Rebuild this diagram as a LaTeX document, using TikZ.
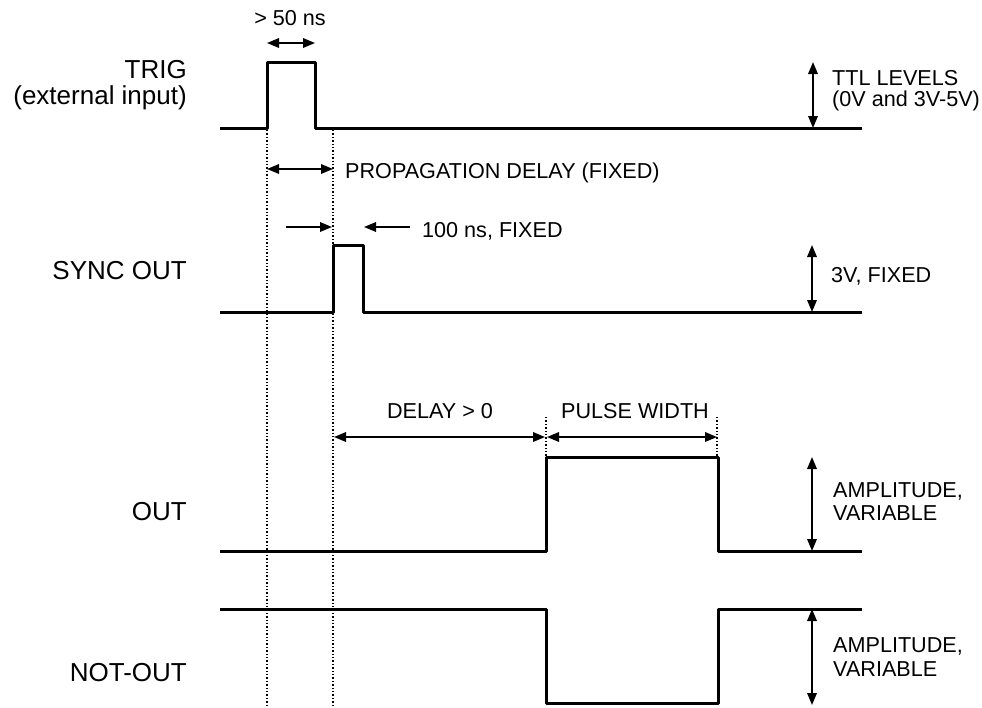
\documentclass[tikz,border=0pt]{standalone}
\usepackage{fontspec}
\setmainfont{Liberation Sans}
\usetikzlibrary{arrows.meta}
\begin{document}
\begin{tikzpicture}[x=1pt,y=-1pt,
  sig/.style={line width=3pt, line join=round},
  dimarrow/.style={line width=1.8pt, {Triangle[length=12pt,width=9.5pt]}-{Triangle[length=12pt,width=9.5pt]}},
  onearrow/.style={line width=1.8pt, -{Triangle[length=12pt,width=9.5pt]}},
  guide/.style={line width=1.4pt, dash pattern=on 1.4pt off 2pt},
  lbl/.style={font=\fontsize{26}{29}\selectfont, anchor=base east, inner sep=0pt},
  note/.style={font=\fontsize{21.6}{25}\selectfont, anchor=base west, inner sep=0pt},
  cnote/.style={font=\fontsize{21.6}{25}\selectfont, anchor=base, inner sep=0pt}]
\useasboundingbox (0,0) rectangle (982,707);
% guide lines
\draw[guide] (267,130) -- (267,707);
\draw[guide] (333,130) -- (333,707);
\draw[guide] (546,417) -- (546,457);
\draw[guide] (717,417) -- (717,457);
% waveforms
\draw[sig] (220,128) -- (267,128) -- (267,62) -- (315,62) -- (315,128) -- (862,128);
\draw[sig] (220,312) -- (333,312) -- (333,245) -- (363,245) -- (363,312) -- (862,312);
\draw[sig] (220,551) -- (546,551) -- (546,457) -- (718,457) -- (718,551) -- (862,551);
\draw[sig] (220,609) -- (546,609) -- (546,703) -- (718,703) -- (718,609) -- (862,609);
% left labels
\node[lbl] (trig) at (187,78) {TRIG};
\node[lbl] (ext) at (187,104) {(external input)};
\node[lbl] (sync) at (187,279) {SYNC OUT};
\node[lbl] (out) at (187,520) {OUT};
\node[lbl] (notout) at (187,681) {NOT-OUT};
% dimension coordinates
\coordinate (w1) at (267,43); \coordinate (w2) at (315,43);
\coordinate (p1) at (267,169); \coordinate (p2) at (333,169);
\coordinate (s1) at (286,227); \coordinate (s2) at (332,227);
\coordinate (s3) at (410,227); \coordinate (s4) at (364,227);
\coordinate (d1) at (334,437); \coordinate (d2) at (545,437);
\coordinate (d3) at (547,437); \coordinate (d4) at (717,437);
\coordinate (t1) at (813,62); \coordinate (t2) at (813,128);
\coordinate (v1) at (812,245); \coordinate (v2) at (812,312);
\coordinate (a1) at (812,457); \coordinate (a2) at (812,551);
\coordinate (b1) at (812,609); \coordinate (b2) at (812,705);
% dimension arrows
\draw[dimarrow] (w1) -- (w2);
\draw[dimarrow] (p1) -- (p2);
\draw[onearrow] (s1) -- (s2);
\draw[onearrow] (s3) -- (s4);
\draw[dimarrow] (d1) -- (d2);
\draw[dimarrow] (d3) -- (d4);
\draw[dimarrow] (t1) -- (t2);
\draw[dimarrow] (v1) -- (v2);
\draw[dimarrow] (a1) -- (a2);
\draw[dimarrow] (b1) -- (b2);
% annotations
\node[cnote] (w) at (290,25) {> 50 ns};
\node[note] (prop) at (345,178) {PROPAGATION DELAY (FIXED)};
\node[note] (fixed100) at (422,237) {100 ns, FIXED};
\node[cnote] (delay) at (440,418) {DELAY > 0};
\node[cnote] (pw) at (635,418) {PULSE WIDTH};
\node[note] (ttl) at (832,85) {TTL LEVELS};
\node[note] (ttl2) at (832,106) {(0V and 3V-5V)};
\node[note] (v3) at (831,282) {3V, FIXED};
\node[note] (amp1) at (833,497) {AMPLITUDE,};
\node[note] (var1) at (833,520) {VARIABLE};
\node[note] (amp2) at (833,652) {AMPLITUDE,};
\node[note] (var2) at (833,676) {VARIABLE};
\end{tikzpicture}
\end{document}
